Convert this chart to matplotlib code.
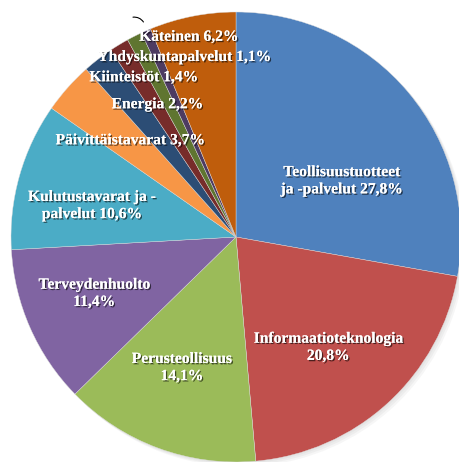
import numpy as np
import matplotlib.pyplot as plt
import matplotlib.patheffects as pe

# slices, clockwise from 12 o'clock
labels = ["Teollisuustuotteet\nja -palvelut 27,8%", "Informaatioteknologia\n20,8%",
          "Perusteollisuus\n14,1%", "Terveydenhuolto\n11,4%",
          "Kulutustavarat ja -\npalvelut 10,6%", "Päivittäistavarat 3,7%",
          "Energia 2,2%", "Kiinteistöt 1,4%", "Yhdyskuntapalvelut 1,1%", "",
          "Käteinen 6,2%"]
values = [27.8, 20.8, 14.1, 11.4, 10.6, 3.7, 2.2, 1.4, 1.1, 0.7, 6.2]
colors = ["#4F81BD", "#C0504D", "#9BBB59", "#8064A2", "#4BACC6", "#F79646",
          "#2C4D75", "#772C2A", "#5F7530", "#4D3B62", "#BF5D0C"]

# label centres in pie units (radius 1)
label_pos = [(0.47, 0.25), (0.41, -0.49), (-0.24, -0.58), (-0.63, -0.25),
             (-0.64, 0.14), (-0.47, 0.43), (-0.35, 0.59), (-0.41, 0.71),
             (-0.23, 0.80), (0, 0), (-0.21, 0.89)]

fig = plt.figure(figsize=(4.6, 4.62), dpi=100)
ax = fig.add_axes([0, 0, 1, 1])

# soft shadow under the pie
for i in range(3):
    ax.pie(values, startangle=90, counterclock=False, radius=1.0,
           center=(0.007 * (i + 1), -0.007 * (i + 1)),
           colors=["#555555"] * len(values), wedgeprops=dict(alpha=0.05, linewidth=0))

wedges, _ = ax.pie(values, colors=colors, startangle=90, counterclock=False,
                   wedgeprops=dict(linewidth=0.3, edgecolor="#dddddd"))

shadow = [pe.withSimplePatchShadow(offset=(1, -1), shadow_rgbFace="black", alpha=0.6), pe.Normal()]
for lab, (x, y) in zip(labels, label_pos):
    if lab:
        ax.text(x, y, lab, ha="center", va="center", color="white", fontsize=11.2,
                family="Liberation Serif", fontweight="bold", linespacing=1.1,
                path_effects=shadow)

# leader line of the tiny unlabeled slice
ax.annotate("", xy=(-0.47, 0.975), xytext=(-0.405, 0.945),
            arrowprops=dict(arrowstyle="-", color="black", lw=0.8,
                            connectionstyle="arc3,rad=0.4"))

ax.set_xlim(-236 / 225, 224 / 225)
ax.set_ylim(-225 / 225, 237 / 225)
ax.set_aspect("equal")
ax.axis("off")

fig.savefig("out.png", dpi=100)
